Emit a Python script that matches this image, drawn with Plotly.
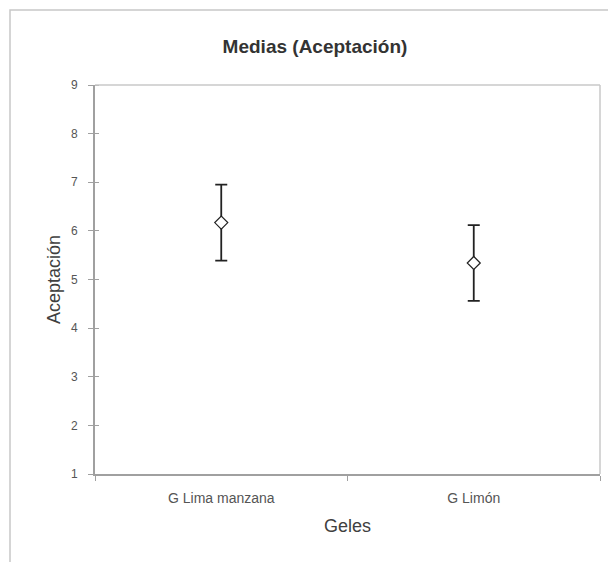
import plotly.graph_objects as go

categories = ["G Lima manzana", "G Limón"]
means = [6.17, 5.34]
errors = [0.78, 0.78]
y_ticks = [1, 2, 3, 4, 5, 6, 7, 8, 9]

# page body has an 8px margin, so the figure is drawn 8px in from the corner
OFF = 8
W, H = 616 - OFF, 562 - OFF
L, R, T, B = 95 - OFF, 616 - 600, 85 - OFF, 562 - 474
pw, ph = W - L - R, H - T - B

def px_x(px):
    return (px - OFF - L) / pw

def px_y(py):
    return (H - B - (py - OFF)) / ph

FONT = "Liberation Sans, Arial"
AX = "#a0a0a0"

fig = go.Figure()
fig.add_trace(go.Scatter(
    x=categories, y=means, mode="markers",
    marker=dict(symbol="diamond", size=10, color="white",
                line=dict(color="#222222", width=1.2)),
    error_y=dict(type="data", array=errors, visible=True,
                 color="#222222", thickness=1.8, width=6),
    showlegend=False,
))

fig.add_shape(type="rect", xref="paper", yref="paper",
              x0=px_x(10), x1=px_x(660), y0=px_y(620), y1=px_y(10),
              line=dict(color="#c8c8c8", width=1.5), fillcolor="rgba(0,0,0,0)",
              layer="below")

fig.update_layout(
    width=W, height=H,
    margin=dict(l=L, r=R, t=T, b=B, autoexpand=False),
    paper_bgcolor="white", plot_bgcolor="white",
    title=dict(text="<b>Medias (Aceptación)</b>", x=(315 - OFF) / W, xref="container",
               xanchor="center",
               y=1 - (46 - OFF) / H, yref="container", yanchor="middle",
               font=dict(family=FONT, size=19, color="#333333")),
    xaxis=dict(
        type="category", range=[-0.5, 1.5], tickson="boundaries",
        ticks="outside", ticklen=5, automargin=False,
        tickcolor=AX, linecolor=AX, linewidth=2, showline=True,
        mirror=False, showgrid=False, ticklabelstandoff=10,
        tickfont=dict(family=FONT, size=14, color="#555555"),
        title=dict(text="Geles", standoff=15,
                   font=dict(family=FONT, size=18, color="#404040")),
    ),
    yaxis=dict(
        range=[1, 9], tickvals=y_ticks, ticks="outside", ticklen=5,
        automargin=False, ticklabelstandoff=8,
        tickcolor=AX, linecolor=AX, linewidth=2, showline=True,
        showgrid=False, zeroline=False,
        minor=dict(tickvals=y_ticks, ticks="inside", ticklen=4, tickcolor=AX,
                   showgrid=False),
        tickfont=dict(family=FONT, size=12, color="#555555"),
        title=dict(text="Aceptación", standoff=6,
                   font=dict(family=FONT, size=18, color="#404040")),
    ),
)

fig.add_shape(type="line", xref="paper", yref="paper", x0=0, x1=1, y0=1, y1=1,
              line=dict(color="#c8c8c8", width=1.5))
fig.add_shape(type="line", xref="paper", yref="paper", x0=1, x1=1, y0=0, y1=1,
              line=dict(color="#c8c8c8", width=1.5))

fig.write_html("out.html")
